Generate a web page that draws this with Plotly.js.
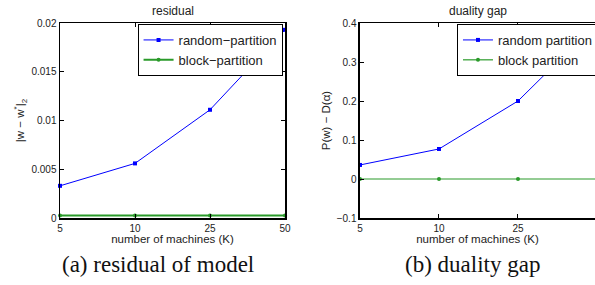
<!DOCTYPE html>
<html>
<head>
<meta charset="utf-8">
<script src="https://cdn.plot.ly/plotly-3.0.1.min.js"></script>
<style>html,body{margin:0;padding:0;background:#fff;}#chart{width:595px;height:285px;}</style>
</head>
<body>
<div id="chart"></div>
<script>
var machines = ["5", "10", "25", "50"];
var residualRandom = [0.0033, 0.0056, 0.0111, 0.0193];
var residualBlock = [0.00025, 0.00025, 0.00025, 0.00025];
var gapRandom = [0.036, 0.077, 0.200, 0.400];
var gapBlock = [0, 0, 0, 0];
var residualTicks = [0, 0.005, 0.01, 0.015, 0.02];
var residualTickText = ["0", "0.005", "0.01", "0.015", "0.02"];
var gapTicks = [-0.1, 0, 0.1, 0.2, 0.3, 0.4];
var gapTickText = ["\u22120.1", "0", "0.1", "0.2", "0.3", "0.4"];

var blue = "#0000ff", green = "#2a9a2a";
var fam = "Liberation Sans, Arial, sans-serif";
var tickFont = {family: fam, size: 10, color: "#222"};
var labFont = {family: fam, size: 11.5, color: "#222"};
var serif = {family: "Liberation Serif, Times New Roman, serif", size: 23, color: "#111"};

var data = [
  {x: machines, y: residualRandom, name: "random\u2212partition", type: "scatter", mode: "lines+markers",
   line: {color: blue, width: 1}, marker: {symbol: "square", size: 4, color: blue}, xaxis: "x", yaxis: "y", legend: "legend", cliponaxis: false},
  {x: machines, y: residualBlock, name: "block\u2212partition", type: "scatter", mode: "lines+markers",
   line: {color: green, width: 2}, marker: {symbol: "circle", size: 4, color: green}, xaxis: "x", yaxis: "y", legend: "legend", cliponaxis: false},
  {x: machines, y: gapRandom, name: "random partition", type: "scatter", mode: "lines+markers",
   line: {color: blue, width: 1}, marker: {symbol: "square", size: 4, color: blue}, xaxis: "x2", yaxis: "y2", legend: "legend2", cliponaxis: false},
  {x: machines, y: gapBlock, name: "block partition", type: "scatter", mode: "lines+markers",
   line: {color: green, width: 1.2}, marker: {symbol: "circle", size: 4, color: green}, xaxis: "x2", yaxis: "y2", legend: "legend2", cliponaxis: false}
];

function xax(domain, range, mirror) {
  return {domain: domain, type: "category", range: range, showgrid: false, zeroline: false,
    showline: true, linecolor: "#000", linewidth: 1.5, mirror: mirror, ticks: "inside", ticklen: 4,
    tickcolor: "#000", tickfont: tickFont, fixedrange: true, automargin: false,
    title: {text: "number of machines (K)", font: labFont, standoff: 0}};
}
function yax(anchor, range, tv, tt, title, mirror, standoff) {
  return {anchor: anchor, range: range, tickvals: tv, ticktext: tt, showgrid: false, zeroline: false,
    showline: true, linecolor: "#000", linewidth: 1.5, mirror: mirror, ticks: "inside", ticklen: 4,
    tickcolor: "#000", tickfont: tickFont, fixedrange: true, automargin: false,
    title: {text: title, font: labFont, standoff: standoff}};
}

var legendStyle = {bgcolor: "#fff", bordercolor: "#000", borderwidth: 1, font: {family: fam, size: 13, color: "#222"},
  yanchor: "top", y: 0.995, tracegroupgap: 0, itemwidth: 30};

var layout = {
  width: 595, height: 285,
  margin: {l: 60, r: 0, t: 23, b: 67, autoexpand: false},
  paper_bgcolor: "#fff", plot_bgcolor: "#fff",
  showlegend: true,
  xaxis: xax([0, 0.4206], [0, 3], "ticks"),
  yaxis: yax("x", [0, 0.02], residualTicks, residualTickText, "|w \u2212 w<sup>*</sup>|<sub>2</sub>", "ticks", 4),
  xaxis2: Object.assign(xax([0.5607, 1], [0, 2.975], "ticks"), {anchor: "y2"}),
  yaxis2: yax("x2", [-0.1, 0.4], gapTicks, gapTickText, "P(w) \u2212 D(\u03b1)", false, 3),
  legend: Object.assign({}, legendStyle, {x: 0.416, xanchor: "right"}),
  legend2: Object.assign({}, legendStyle, {x: 0.742, xanchor: "left"}),
  annotations: [
    {text: "residual", xref: "paper", yref: "paper", x: 0.2103, xanchor: "center", y: 1, yshift: 3, yanchor: "bottom", showarrow: false,
     font: {family: fam, size: 12, color: "#222"}},
    {text: "duality gap", xref: "paper", yref: "paper", x: 0.7804, xanchor: "center", y: 1, yshift: 3, yanchor: "bottom", showarrow: false,
     font: {family: fam, size: 12, color: "#222"}},
    {text: "(a) residual of model", xref: "paper", yref: "paper", x: 0.1832, xanchor: "center", y: 0, yshift: -46, yanchor: "middle", showarrow: false,
     font: serif},
    {text: "(b) duality gap", xref: "paper", yref: "paper", x: 0.7701, xanchor: "center", y: 0, yshift: -46, yanchor: "middle", showarrow: false,
     font: serif}
  ]
};

Plotly.newPlot("chart", data, layout, {displayModeBar: false, staticPlot: true});
</script>
</body>
</html>
